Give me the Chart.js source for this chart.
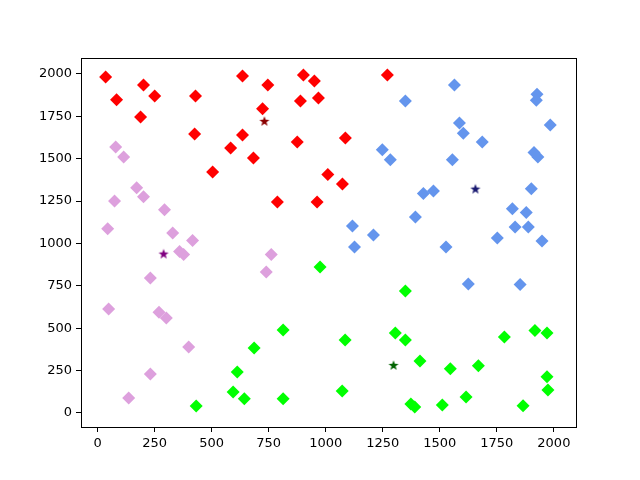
<!DOCTYPE html>
<html>
<head>
<meta charset="utf-8">
<script src="https://cdn.jsdelivr.net/npm/chart.js@4/dist/chart.umd.min.js"></script>
<style>
html, body { margin: 0; padding: 0; background: #fff; }
</style>
</head>
<body>
<canvas id="chart" width="640" height="480"></canvas>
<script>
// cluster points
const redX = [35, 201, 83, 250, 429, 188, 425, 635, 746, 723, 635, 583, 683, 504, 902, 950, 889, 968, 875, 788, 962, 1009, 1073, 1086, 1270];
const redY = [1982, 1935, 1847, 1870, 1870, 1746, 1646, 1988, 1935, 1794, 1640, 1563, 1504, 1422, 1994, 1959, 1841, 1858, 1599, 1245, 1245, 1406, 1351, 1622, 1994];

const blueX = [1564, 1349, 1926, 1923, 1984, 1586, 1603, 1686, 1248, 1283, 1555, 1913, 1930, 1428, 1472, 1901, 1818, 1879, 1393, 1117, 1209, 1830, 1888, 1752, 1948, 1126, 1527, 1625, 1852];
const blueY = [1935, 1841, 1880, 1844, 1699, 1711, 1650, 1599, 1552, 1493, 1493, 1536, 1510, 1294, 1310, 1322, 1204, 1182, 1156, 1103, 1050, 1097, 1097, 1032, 1014, 979, 979, 761, 757];

const plumX = [79, 114, 171, 201, 74, 293, 44, 329, 416, 359, 377, 761, 739, 231, 48, 269, 301, 399, 231, 136];
const plumY = [1569, 1510, 1329, 1276, 1251, 1198, 1086, 1062, 1017, 953, 934, 934, 832, 796, 613, 594, 560, 389, 230, 88];

const greenX = [975, 813, 686, 612, 594, 643, 813, 432, 1349, 1085, 1305, 1349, 1783, 1917, 1970, 1413, 1546, 1669, 1970, 1974, 1072, 1373, 1390, 1511, 1615, 1865];
const greenY = [861, 490, 383, 242, 124, 83, 83, 41, 720, 431, 472, 431, 448, 486, 472, 307, 260, 279, 214, 136, 130, 53, 35, 47, 94, 43];

// centroids: red, blue, plum, green
const centerX = [731, 1656, 289, 1297];
const centerY = [1723, 1323, 940, 283];

const tickValues = [0, 250, 500, 750, 1000, 1250, 1500, 1750, 2000];

function toPoints(xs, ys) {
    return xs.map((x, i) => ({ x: x, y: ys[i] }));
}

// small filled star, like matplotlib's '*' marker
function starImage(color) {
    const c = document.createElement('canvas');
    const s = 12;
    c.width = s;
    c.height = s;
    const g = c.getContext('2d');
    g.fillStyle = color;
    g.beginPath();
    for (let i = 0; i < 10; i++) {
        const r = i % 2 === 0 ? 5.3 : 2.2;
        const a = -Math.PI / 2 + i * Math.PI / 5;
        const px = s / 2 + r * Math.cos(a);
        const py = s / 2 + 0.6 + r * Math.sin(a);
        if (i === 0) g.moveTo(px, py); else g.lineTo(px, py);
    }
    g.closePath();
    g.fill();
    return c;
}

function clusterSet(xs, ys, color) {
    return {
        data: toPoints(xs, ys),
        backgroundColor: color,
        borderColor: color,
        borderWidth: 0,
        pointStyle: 'rectRot',
        pointRadius: 6.5,
        order: 2
    };
}

function centerSet(i, color) {
    return {
        data: [{ x: centerX[i], y: centerY[i] }],
        pointStyle: starImage(color),
        pointRadius: 6,
        order: 1
    };
}

const frame = {
    id: 'frame',
    afterDraw(chart) {
        const a = chart.chartArea;
        const ctx = chart.ctx;
        ctx.save();
        ctx.strokeStyle = '#000';
        ctx.lineWidth = 1;
        ctx.strokeRect(Math.round(a.left) + 0.5, Math.round(a.top) + 0.5,
            Math.round(a.right - a.left), Math.round(a.bottom - a.top));
        ctx.restore();
    }
};

const tickFont = { family: 'DejaVu Sans', size: 13 };

function axis(min, max) {
    return {
        type: 'linear',
        min: min,
        max: max,
        afterBuildTicks: (scale) => {
            scale.ticks = tickValues.map(v => ({ value: v }));
        },
        ticks: {
            color: '#000',
            font: tickFont,
            padding: 4,
            maxRotation: 0,
            autoSkip: false,
            callback: (v) => String(v)
        },
        grid: {
            drawOnChartArea: false,
            tickLength: 5,
            tickColor: '#000',
            tickWidth: 1
        },
        border: { color: '#000', width: 1 }
    };
}

const xAxis = axis(-73, 2097);
xAxis.afterFit = (scale) => { scale.height = 53; };
const yAxis = axis(-83, 2094);
yAxis.afterFit = (scale) => { scale.width = 81; };

new Chart(document.getElementById('chart'), {
    type: 'scatter',
    data: {
        datasets: [
            centerSet(0, '#8b0000'),
            centerSet(1, '#191970'),
            centerSet(2, '#800080'),
            centerSet(3, '#006400'),
            clusterSet(redX, redY, '#ff0000'),
            clusterSet(blueX, blueY, '#6495ed'),
            clusterSet(plumX, plumY, '#dda0dd'),
            clusterSet(greenX, greenY, '#00ff00')
        ]
    },
    options: {
        responsive: false,
        devicePixelRatio: 1,
        animation: false,
        layout: { padding: { top: 58, right: 64, left: 0, bottom: 0 } },
        plugins: {
            legend: { display: false },
            tooltip: { enabled: false }
        },
        scales: { x: xAxis, y: yAxis }
    },
    plugins: [frame]
});
</script>
</body>
</html>
